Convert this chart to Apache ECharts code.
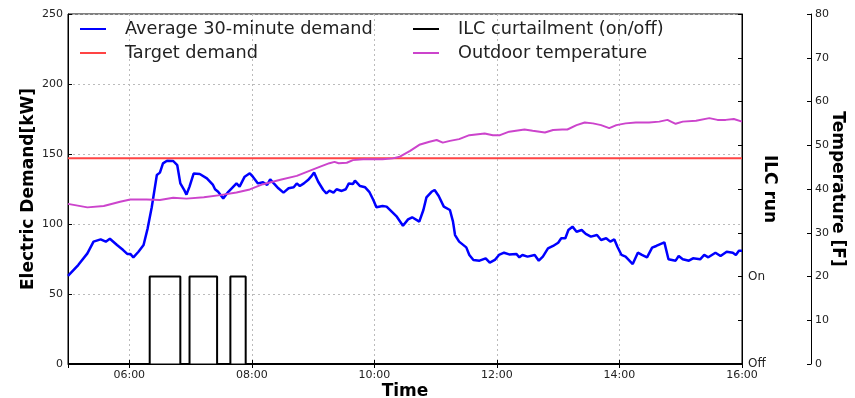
<!DOCTYPE html>
<html>
<head>
<meta charset="utf-8">
<script src="https://cdn.jsdelivr.net/npm/echarts@6/dist/echarts.min.js"></script>
<style>
html,body{margin:0;padding:0;background:#fff;}
#chart{width:855px;height:398px;}
</style>
</head>
<body>
<div id="chart"></div>
<script>
// ---- data ----
var demandTimes = ['05:00','05:10','05:19','05:25','05:32','05:37','05:41','05:48','05:54','05:58',
'06:01','06:04','06:09','06:14','06:18','06:22','06:27','06:30','06:33','06:37','06:43','06:47','06:50','06:54','06:56','06:59',
'07:03','07:09','07:16','07:22','07:24','07:27','07:32','07:37','07:45','07:48','07:53','07:58',
'08:01','08:06','08:11','08:15','08:18','08:22','08:26','08:31','08:36','08:41','08:44','08:47','08:51','08:55','08:58',
'09:01','09:05','09:10','09:13','09:16','09:20','09:23','09:28','09:32','09:35','09:39','09:41','09:46','09:51','09:55','09:59',
'10:02','10:08','10:12','10:17','10:22','10:28','10:33','10:37','10:44','10:48','10:51','10:56','10:59',
'11:03','11:08','11:14','11:17','11:19','11:23','11:30','11:33','11:37','11:43','11:49','11:53','11:58',
'12:02','12:07','12:12','12:19','12:22','12:25','12:30','12:37','12:41','12:45','12:50','12:55',
'13:00','13:03','13:07','13:10','13:14','13:18','13:23','13:27','13:32','13:38','13:42','13:47','13:51','13:55','13:58',
'14:02','14:06','14:13','14:18','14:22','14:27','14:32','14:36','14:44','14:48','14:55','14:58',
'15:02','15:08','15:12','15:19','15:23','15:27','15:34','15:39','15:45','15:51','15:54','15:57','16:00'];
var demandKW = [63,70.7,79,87.4,89,87.4,89.5,85,81.4,78.6,
78.6,76.2,80.2,85,96.9,112,135,136.7,143.3,145.2,145,142,129,124,121,126.7,
136,135.7,132.6,127.9,124.8,123,118.3,123,129,126.7,133.8,136.2,
133.8,129,129.8,127.9,131.9,128.6,125.5,122.4,125.5,126.2,129,127.1,129,131.4,133.8,
136.7,130.2,124.3,121.9,123.8,122.4,124.8,123.6,124.8,129,128.6,130.9,127.1,126.2,123,117.1,
111.9,112.9,112.4,108.8,105.2,98.7,103.3,104.8,101.7,110,119,123,124.3,
120,112.4,110,101.7,92.1,87.4,83.3,77.9,74.3,73.8,75.5,72.4,74.3,
77.9,79.5,78.3,78.6,76.2,77.9,76.7,77.9,73.8,76.7,82.6,84.3,
86.6,89.8,89.8,95.7,98.1,94.5,95.7,92.9,91,92.1,88.6,89.8,87.4,89,83.8,
77.9,76.7,71.4,79.5,77.9,76.2,83.1,84.3,86.9,74.8,73.8,77.1,
74.8,73.8,75.5,74.8,77.9,76.2,79.5,77.1,80.2,79.5,77.9,80.9,80.9];

var targetKW = 147;

var ilcTimes = ['05:00','06:20','06:50','06:59','07:26','07:39','07:54','16:00'];
var ilcState = [0,1,0,1,0,1,0,0];

var tempTimes = ['05:00','05:19','05:35','05:51','06:01','06:17','06:30','06:43','06:56','07:13','07:29','07:45','07:58',
'08:11','08:28','08:44','08:57','09:07','09:16','09:21','09:25','09:33','09:39','09:49','09:59',
'10:08','10:18','10:25','10:35','10:44','10:54','11:01','11:07','11:14','11:23','11:33','11:48','11:56',
'12:03','12:12','12:27','12:35','12:47','12:55','13:04','13:09','13:18','13:26','13:34','13:42','13:50','13:57',
'14:06','14:16','14:29','14:39','14:47','14:55','15:02','15:15','15:28','15:36','15:44','15:52','16:00'];
var tempF = [36.6,35.8,36.1,37.1,37.6,37.6,37.5,38.0,37.8,38.1,38.6,39.2,39.9,
41.1,42.1,43.0,44.2,45.1,45.9,46.2,45.9,46.0,46.6,46.8,46.8,
46.8,47.0,47.4,48.7,50.1,50.8,51.2,50.6,51.0,51.4,52.3,52.7,52.3,
52.3,53.1,53.6,53.3,52.9,53.5,53.6,53.6,54.6,55.2,55.0,54.6,53.9,54.6,
55.0,55.2,55.2,55.4,55.8,54.9,55.4,55.6,56.2,55.8,55.8,56.0,55.4];

var xTickHours = [6,8,10,12,14,16];
var demandTicks = [0,50,100,150,200,250];
var tempTicks = [0,10,20,30,40,50,60,70,80];
var ilcLabels = {0:'Off',1:'On'};

// ---- helpers ----
function toH(s){var p=s.split(':');return +p[0]+(+p[1])/60;}
function fmtH(v){var h=Math.round(v);return (h<10?'0':'')+h+':00';}
function pairs(ts,vs){return ts.map(function(t,i){return [toH(t),vs[i]];});}

var FONT = 'DejaVu Sans';
var xMin = 5, xMax = 16;

var chart = echarts.init(document.getElementById('chart'), null, {renderer:'canvas'});
var tickLabel = {fontFamily:FONT,fontSize:11,color:'#222'};
var nameStyle = {fontFamily:FONT,fontSize:17,fontWeight:'bold',color:'#000'};
var legendText = {fontFamily:FONT,fontSize:17.7,color:'#222',lineHeight:16,padding:[0,0,0,14]};

chart.setOption({
  animation:false,
  backgroundColor:'#fff',
  grid:{left:68,right:113,top:14,bottom:34,outerBoundsMode:'none',containLabel:false,
        show:true,borderColor:'#000',borderWidth:1,backgroundColor:'transparent'},
  legend:[
    {orient:'vertical',left:75,top:15,itemWidth:26,itemHeight:2,itemGap:6,icon:'rect',
     textStyle:legendText,data:['Average 30-minute demand','Target demand']},
    {orient:'vertical',left:408,top:15,itemWidth:26,itemHeight:2,itemGap:6,icon:'rect',
     textStyle:legendText,data:['ILC curtailment (on/off)','Outdoor temperature']}
  ],
  xAxis:[
    {type:'value',min:xMin,max:xMax,splitNumber:5,
     name:'Time',nameLocation:'middle',nameGap:19,nameMoveOverlap:false,nameTextStyle:nameStyle,
     axisLine:{show:true,lineStyle:{color:'#000',width:1}},
     axisTick:{show:true,inside:true,length:4,lineStyle:{color:'#000'}},
     axisLabel:Object.assign({margin:6,formatter:function(v){return xTickHours.indexOf(Math.round(v*100)/100)>=0?fmtH(v):'';}},tickLabel),
     splitLine:{show:true,lineStyle:{color:'#bbb',type:[2,3],width:1}}},
    {type:'value',position:'top',min:xMin,max:xMax,splitNumber:5,
     axisLine:{show:false},axisTick:{show:true,inside:true,length:4,lineStyle:{color:'#000'}},
     axisLabel:{show:false},splitLine:{show:false}}
  ],
  yAxis:[
    {type:'value',position:'left',min:demandTicks[0],max:demandTicks[demandTicks.length-1],interval:50,
     name:'Electric Demand[kW]',nameLocation:'middle',nameGap:31,nameMoveOverlap:false,nameTextStyle:nameStyle,
     axisLine:{show:true,lineStyle:{color:'#000'}},
     axisTick:{show:true,inside:true,length:4,lineStyle:{color:'#000'}},
     axisLabel:Object.assign({margin:5},tickLabel),
     splitLine:{show:true,lineStyle:{color:'#bbb',type:[2,3],width:1}}},
    {type:'value',position:'right',offset:0,min:0,max:4,interval:0.5,
     name:'ILC run',nameLocation:'middle',nameGap:19,nameMoveOverlap:false,nameRotate:-90,nameTextStyle:nameStyle,
     axisLine:{show:true,lineStyle:{color:'#000'}},
     axisTick:{show:true,inside:true,length:4,lineStyle:{color:'#000'}},
     axisLabel:Object.assign({margin:6,formatter:function(v){return ilcLabels[v]||'';}},tickLabel,{fontSize:12}),
     splitLine:{show:false}},
    {type:'value',position:'right',offset:69,min:tempTicks[0],max:tempTicks[tempTicks.length-1],interval:10,
     name:'Temperature [F]',nameLocation:'middle',nameGap:18,nameMoveOverlap:false,nameRotate:-90,nameTextStyle:nameStyle,
     axisLine:{show:true,lineStyle:{color:'#000'}},
     axisTick:{show:true,inside:true,length:4,lineStyle:{color:'#000'}},
     axisLabel:Object.assign({margin:4},tickLabel),
     splitLine:{show:false}}
  ],
  series:[
    {name:'Average 30-minute demand',type:'line',xAxisIndex:0,yAxisIndex:0,showSymbol:false,symbol:'none',
     lineStyle:{color:'#0000ff',width:2.5},itemStyle:{color:'#0000ff'},
     data:pairs(demandTimes,demandKW),z:3},
    {name:'Target demand',type:'line',xAxisIndex:0,yAxisIndex:0,showSymbol:false,symbol:'none',
     lineStyle:{color:'#ff4444',width:2},itemStyle:{color:'#ff4444'},
     data:[[xMin,targetKW],[xMax,targetKW]],z:4},
    {name:'ILC curtailment (on/off)',type:'line',xAxisIndex:0,yAxisIndex:1,step:'end',showSymbol:false,symbol:'none',
     lineStyle:{color:'#000',width:2},itemStyle:{color:'#000'},
     data:pairs(ilcTimes,ilcState),z:5},
    {name:'Outdoor temperature',type:'line',xAxisIndex:0,yAxisIndex:2,showSymbol:false,symbol:'none',
     lineStyle:{color:'#cc44cc',width:2},itemStyle:{color:'#cc44cc'},
     data:pairs(tempTimes,tempF),z:6}
  ]
});
</script>
</body>
</html>
